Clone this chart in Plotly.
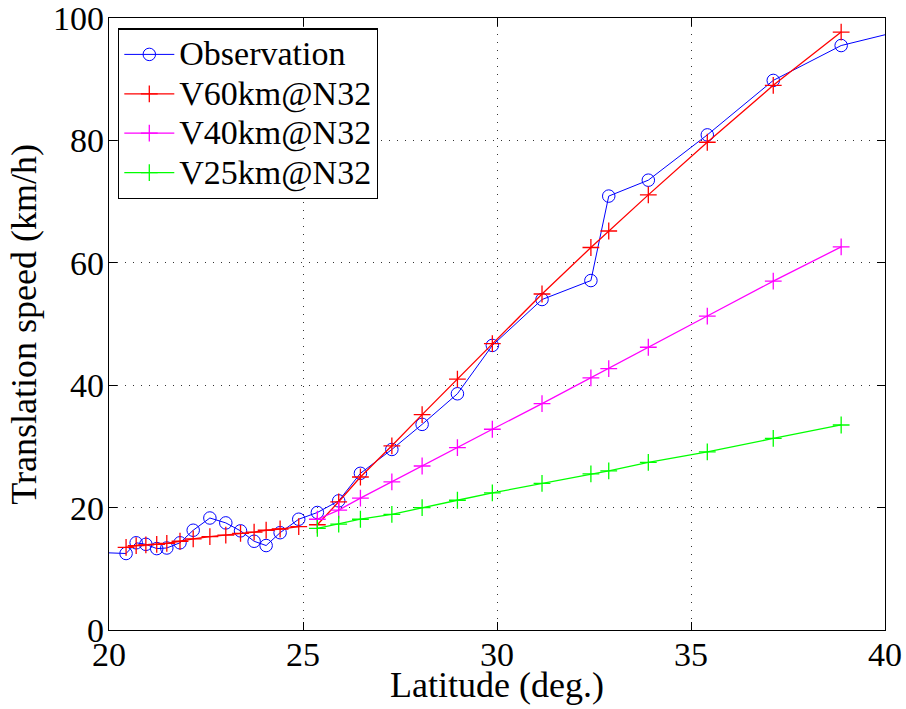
import plotly.graph_objects as go

# Observation (points just outside the axis range are clipped, as in the reference)
obs_lat = [19.6, 20.44, 20.70, 20.95, 21.23, 21.49, 21.83, 22.17, 22.60, 23.01, 23.39,
           23.74, 24.05, 24.41, 24.89, 25.37, 25.92, 26.48, 27.29, 28.07, 28.98, 29.88,
           31.16, 32.42, 32.88, 33.90, 35.42, 37.12, 38.87, 40.6]
obs_speed = [12.7, 12.5, 14.25, 14.0, 13.3, 13.4, 14.25, 16.3, 18.3, 17.5, 16.2,
             14.5, 13.8, 15.9, 18.1, 19.2, 21.1, 25.6, 29.5, 33.6, 38.6, 46.5,
             54.0, 57.1, 70.9, 73.5, 80.9, 89.8, 95.5, 98.2]

v60_lat = [20.44, 20.70, 20.95, 21.23, 21.49, 21.83, 22.17, 22.60, 23.01, 23.39, 23.74,
           24.05, 24.41, 24.89, None, 25.37, 25.92, 26.48, 27.29, 28.07, 28.98, 29.88,
           31.16, 32.42, 32.88, 33.90, 35.42, 37.12, 38.87]
v60_speed = [13.5, 13.8, 13.9, 14.0, 14.15, 14.5, 14.9, 15.25, 15.5, 15.8, 16.0,
             16.3, 16.5, 16.9, None, 17.2, 20.95, 25.0, 30.1, 35.2, 41.0, 46.8,
             54.9, 62.5, 65.2, 71.1, 79.7, 89.0, 97.7]

v_lat = [25.37, 25.92, 26.48, 27.29, 28.07, 28.98, 29.88, 31.16, 32.42, 32.88,
         33.90, 35.42, 37.12, 38.87]
v40_speed = [18.1, 19.6, 21.55, 24.2, 26.8, 29.8, 32.8, 37.0, 41.2, 42.7,
             46.2, 51.3, 57.0, 62.6]
v25_speed = [16.6, 17.3, 18.1, 18.9, 20.0, 21.2, 22.4, 23.95, 25.5, 26.0,
             27.4, 29.1, 31.3, 33.5]

series_names = ["Observation", "V60km@N32", "V40km@N32", "V25km@N32"]
x_ticks = [20, 25, 30, 35, 40]
y_ticks = [0, 20, 40, 60, 80, 100]
x_title = "Latitude (deg.)"
y_title = "Translation speed (km/h)"

FONT = "Liberation Serif, Times New Roman, serif"


def legend_name(s):
    return '<span style="font-size:34px">' + s + '</span>'


fig = go.Figure()
fig.add_trace(go.Scatter(
    x=obs_lat, y=obs_speed, name=legend_name(series_names[0]), mode="lines+markers",
    line=dict(color="#0000FF", width=1),
    marker=dict(symbol="circle-open", size=12.5, color="#0000FF", line=dict(width=1, color="#0000FF")),
))
plus = dict(symbol="cross-thin-open", size=12)
for xs, ys, nm, col in [(v60_lat, v60_speed, series_names[1], "#FF0000"),
                        (v_lat, v40_speed, series_names[2], "#FF00FF"),
                        (v_lat, v25_speed, series_names[3], "#00FF00")]:
    fig.add_trace(go.Scatter(
        x=xs, y=ys, name=legend_name(nm), mode="lines+markers",
        line=dict(color=col, width=1.3),
        marker=dict(**plus, color=col, line=dict(width=1.3, color=col)),
    ))

axis_common = dict(
    showline=True, linecolor="black", linewidth=1.3, mirror="ticks",
    ticks="inside", ticklen=8, tickwidth=1, tickcolor="black",
    showgrid=True, gridcolor="#333333", gridwidth=1, griddash="1px,7px",
    zeroline=False, automargin=False, ticklabeloverflow="allow",
)

fig.update_layout(
    width=906, height=709,
    margin=dict(l=109, r=21, t=18, b=79),
    paper_bgcolor="white", plot_bgcolor="white",
    font=dict(family=FONT, size=34, color="black"),
    xaxis=dict(axis_common, range=[20, 40], tickvals=x_ticks, ticklabelstandoff=-6,
               tickfont=dict(family=FONT, size=34, color="black")),
    yaxis=dict(axis_common, range=[0, 100], tickvals=y_ticks, ticklabelstandoff=-3,
               tickfont=dict(family=FONT, size=34, color="black")),
    legend=dict(x=0.0116, y=0.983, xanchor="left", yanchor="top",
                bgcolor="white", bordercolor="black", borderwidth=1.3,
                font=dict(family=FONT, size=28), tracegroupgap=0, itemwidth=50),
    showlegend=True,
    annotations=[
        dict(text=x_title, xref="paper", yref="paper", x=0.5, y=-0.0905,
             xanchor="center", yanchor="middle", showarrow=False,
             font=dict(family=FONT, size=36, color="black")),
        dict(text=y_title, xref="paper", yref="paper", x=-0.11, y=0.5,
             xanchor="center", yanchor="middle", showarrow=False, textangle=-90,
             font=dict(family=FONT, size=36, color="black")),
    ],
)

fig.write_html("out.html", config={"displayModeBar": False},
               post_script="document.body.style.margin='0';")
